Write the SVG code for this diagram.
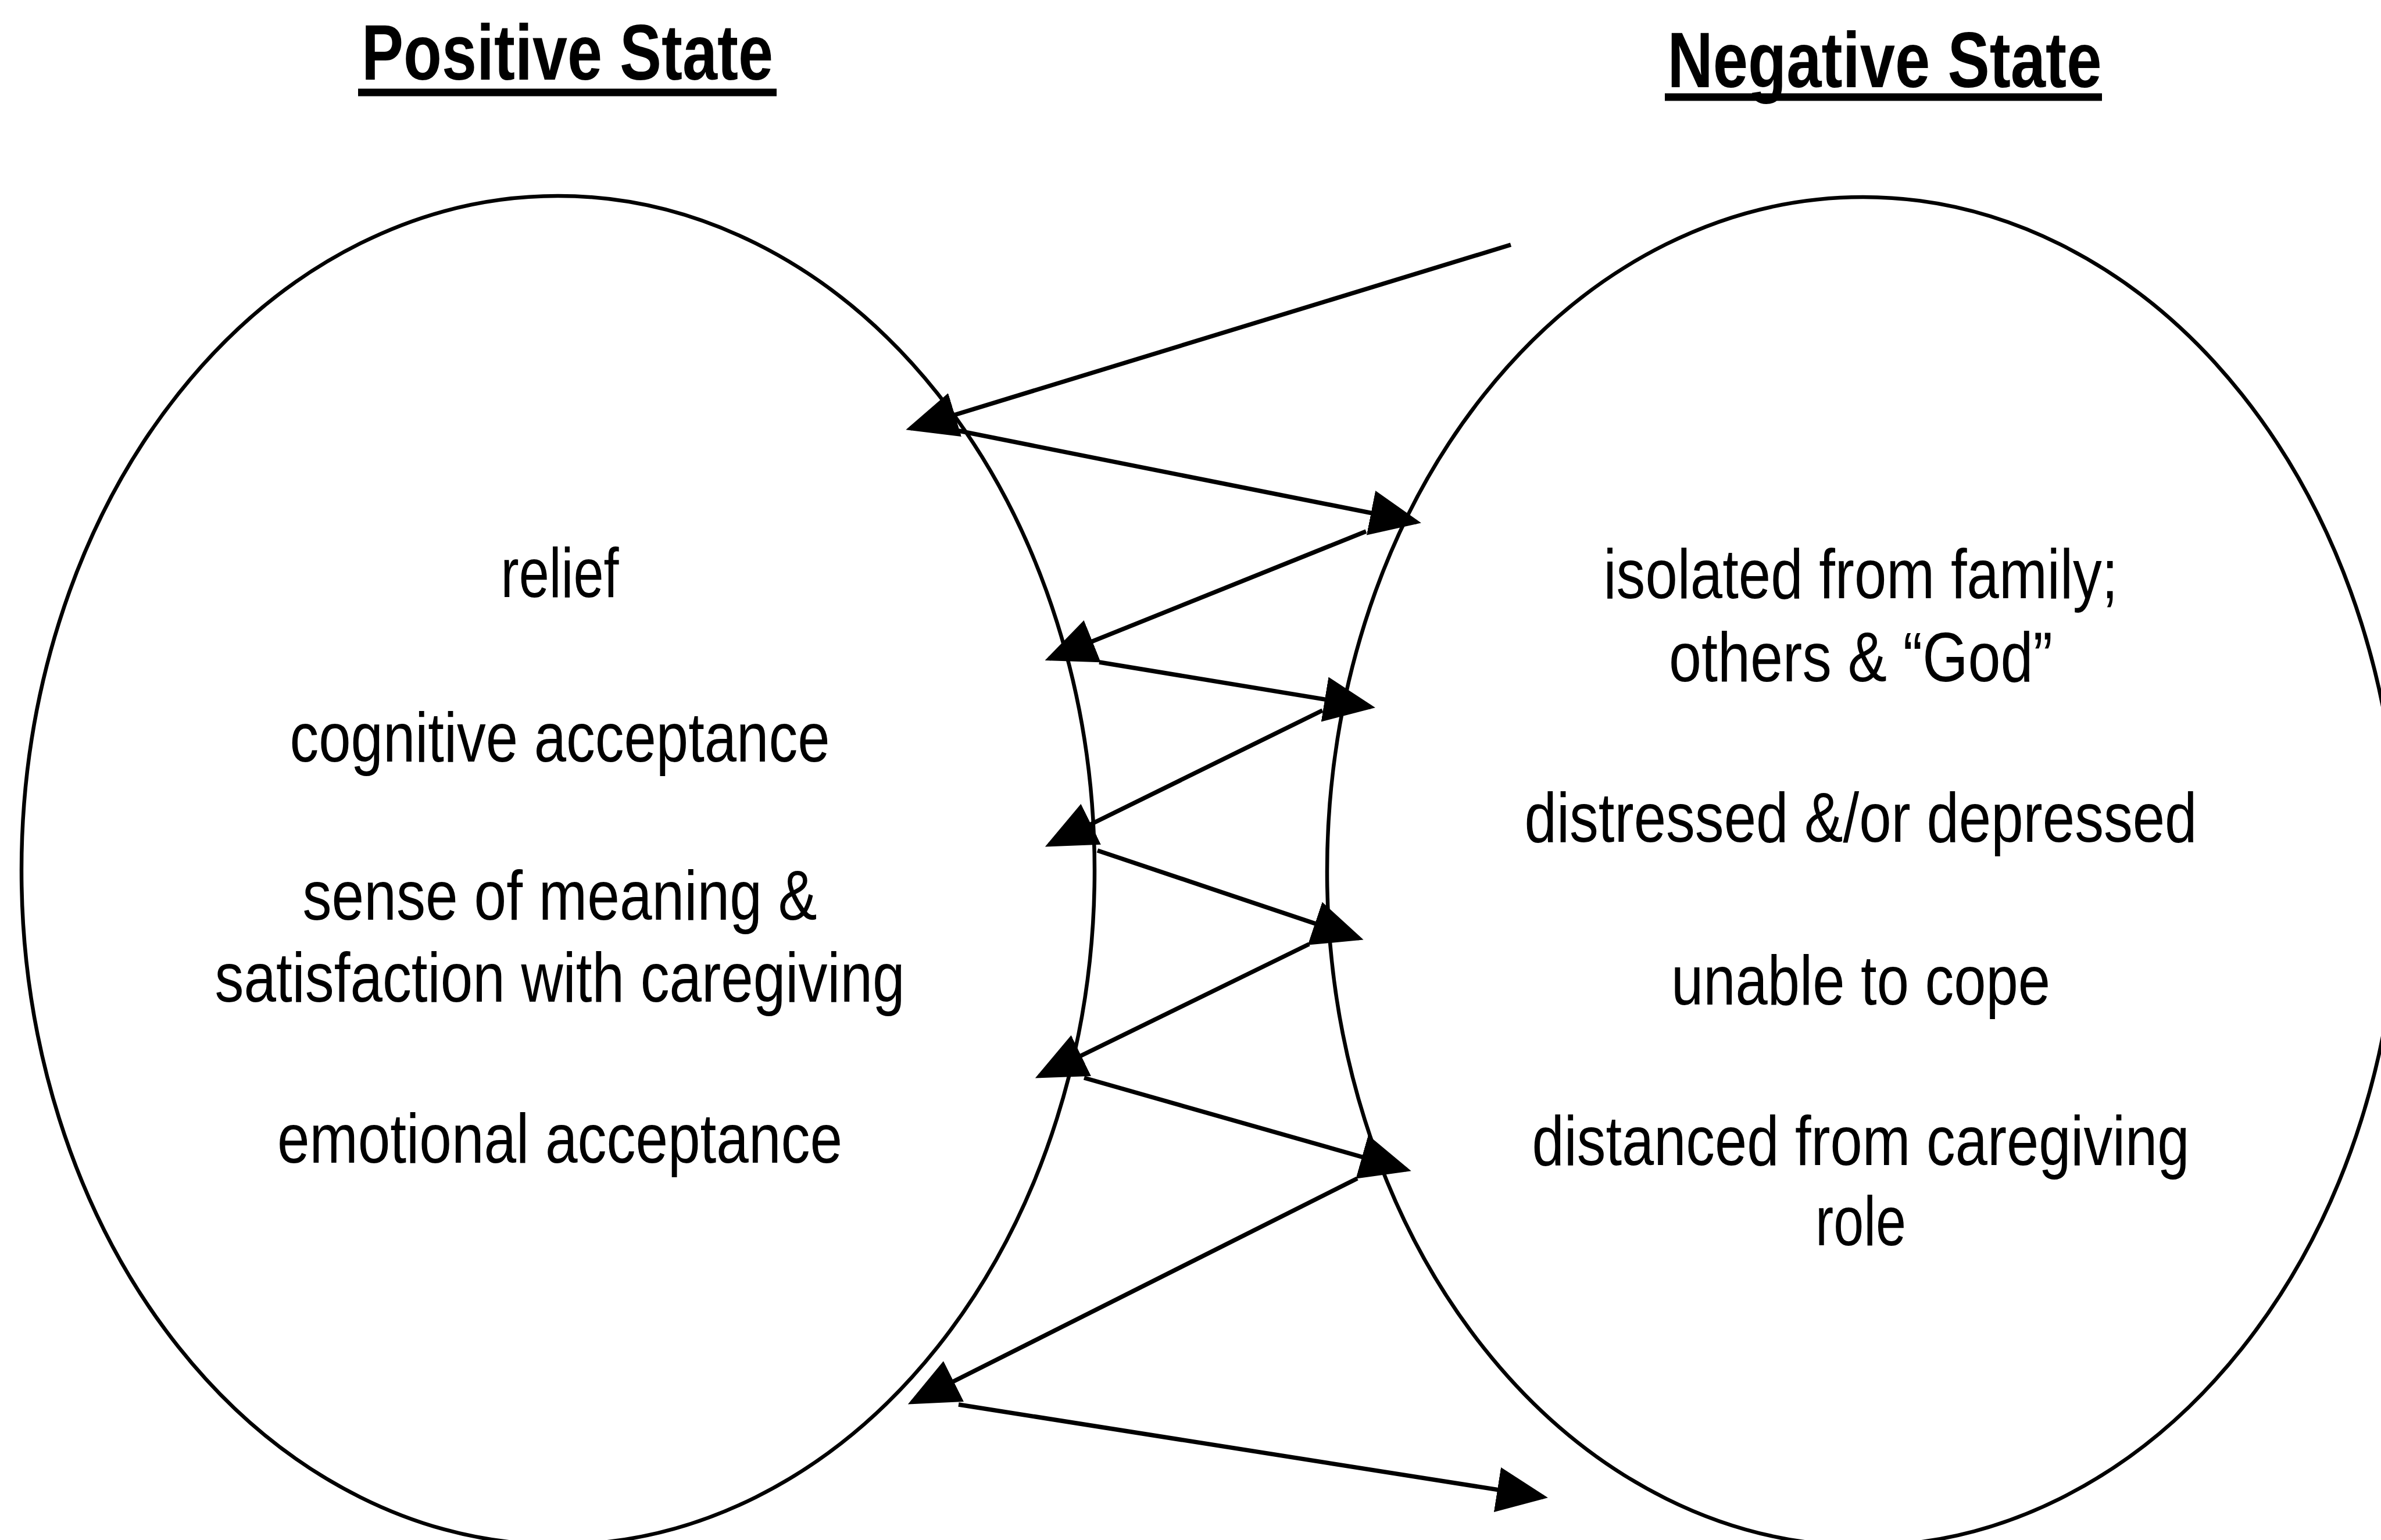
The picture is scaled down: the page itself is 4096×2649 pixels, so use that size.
<svg xmlns="http://www.w3.org/2000/svg" width="4096" height="2649" viewBox="0 0 4096 2649">
  <style>
    .oval { fill: none; stroke: #000; stroke-width: 6.5; }
    .title { font-family: "Liberation Sans", Arial, sans-serif; font-weight: bold; font-size: 135px; fill: #000; text-anchor: middle; }
    .uline { stroke: #000; stroke-width: 13; }
    .item { font-family: "Liberation Sans", Arial, sans-serif; font-size: 120px; fill: #000; text-anchor: middle; }
    .conn { fill: none; stroke: #000; stroke-width: 7.5; }
  </style>
  <defs>
    <marker id="arrow" markerUnits="userSpaceOnUse" markerWidth="100" markerHeight="90" refX="80" refY="39" orient="auto">
      <path d="M0,0 L88,39 L0,78 z" fill="#000"/>
    </marker>
  </defs>
  <rect width="4096" height="2649" fill="#fff"/>

  <g id="title-positive">
    <text class="title" x="976" y="137" textLength="708" lengthAdjust="spacingAndGlyphs">Positive State</text>
    <line class="uline" x1="616" y1="159" x2="1336" y2="159"/>
  </g>
  <g id="title-negative">
    <text class="title" x="3242" y="150" textLength="747" lengthAdjust="spacingAndGlyphs">Negative State</text>
    <line class="uline" x1="2864" y1="167" x2="3616" y2="167"/>
  </g>

  <g id="node-positive">
    <ellipse class="oval" cx="960" cy="1497" rx="923" ry="1160"/>
    <text class="item" x="963" y="1027" textLength="203" lengthAdjust="spacingAndGlyphs">relief</text>
    <text class="item" x="963" y="1310" textLength="929" lengthAdjust="spacingAndGlyphs">cognitive acceptance</text>
    <text class="item" x="963" y="1582" textLength="885" lengthAdjust="spacingAndGlyphs">sense of meaning &amp;</text>
    <text class="item" x="963" y="1723" textLength="1187" lengthAdjust="spacingAndGlyphs">satisfaction with caregiving</text>
    <text class="item" x="963" y="2000" textLength="972" lengthAdjust="spacingAndGlyphs">emotional acceptance</text>
  </g>

  <g id="node-negative">
    <ellipse class="oval" cx="3205" cy="1499" rx="922" ry="1160"/>
    <text class="item" x="3201" y="1029" textLength="885" lengthAdjust="spacingAndGlyphs">isolated from family;</text>
    <text class="item" x="3201" y="1172" textLength="660" lengthAdjust="spacingAndGlyphs">others &amp; “God”</text>
    <text class="item" x="3201" y="1448" textLength="1157" lengthAdjust="spacingAndGlyphs">distressed &amp;/or depressed</text>
    <text class="item" x="3201" y="1728" textLength="652" lengthAdjust="spacingAndGlyphs">unable to cope</text>
    <text class="item" x="3201" y="2004" textLength="1131" lengthAdjust="spacingAndGlyphs">distanced from caregiving</text>
    <text class="item" x="3201" y="2142" textLength="156" lengthAdjust="spacingAndGlyphs">role</text>
  </g>

  <g id="connectors">
    <line class="conn" x1="2599" y1="421" x2="1566" y2="737" marker-end="url(#arrow)"/>
    <line class="conn" x1="1649" y1="741" x2="2437" y2="898" marker-end="url(#arrow)"/>
    <line class="conn" x1="2350" y1="914" x2="1805" y2="1133" marker-end="url(#arrow)"/>
    <line class="conn" x1="1891" y1="1139" x2="2358" y2="1216" marker-end="url(#arrow)"/>
    <line class="conn" x1="2275" y1="1222" x2="1805" y2="1453" marker-end="url(#arrow)"/>
    <line class="conn" x1="1888" y1="1463" x2="2338" y2="1614" marker-end="url(#arrow)"/>
    <line class="conn" x1="2252" y1="1624" x2="1788" y2="1851" marker-end="url(#arrow)"/>
    <line class="conn" x1="1865" y1="1854" x2="2420" y2="2012" marker-end="url(#arrow)"/>
    <line class="conn" x1="2335" y1="2027" x2="1569" y2="2412" marker-end="url(#arrow)"/>
    <line class="conn" x1="1649" y1="2416" x2="2655" y2="2575" marker-end="url(#arrow)"/>
  </g>
</svg>
